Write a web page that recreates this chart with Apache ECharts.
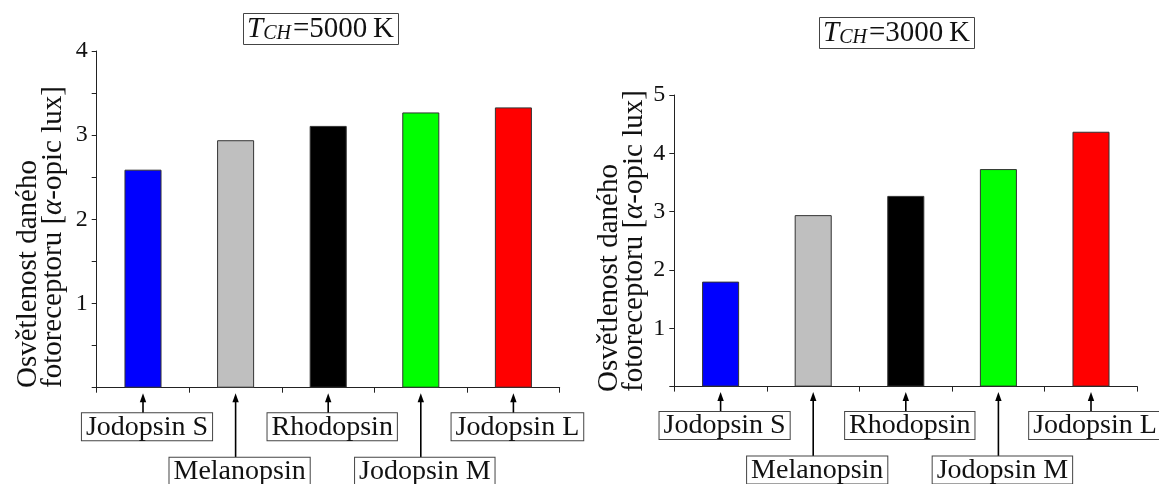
<!DOCTYPE html>
<html>
<head>
<meta charset="utf-8">
<script src="https://cdn.jsdelivr.net/npm/echarts@6/dist/echarts.min.js"></script>
<style>
  html, body { margin: 0; padding: 0; background: #fff; }
  #chart { width: 1159px; height: 484px; }
</style>
</head>
<body>
<div id="chart"></div>
<script>
// Photoreceptor names, shared by both panels
const categories = ['Jodopsin S', 'Melanopsin', 'Rhodopsin', 'Jodopsin M', 'Jodopsin L'];
// Illuminance per photoreceptor [α-opic lux]
const values5000 = [2.59, 2.94, 3.11, 3.27, 3.33];
const values3000 = [1.80, 2.94, 3.27, 3.73, 4.37];
// Bar fill per photoreceptor
const barColors = ['#0000ff', '#bfbfbf', '#000000', '#00ff00', '#ff0000'];
// Panel headings (colour temperature)
const temps = ['5000', '3000'];

const FONT = 'Liberation Serif';
const INK = '#111';

const chart = echarts.init(document.getElementById('chart'), null, { renderer: 'canvas' });

function barData(vals) {
  return vals.map((v, i) => ({ value: v, itemStyle: { color: barColors[i] } }));
}

// Boxed category names below the axis, with an arrow pointing at each bar
function renderCallout(params, api) {
  const idx = api.value(0);
  const p = api.coord([idx, 0]);
  const x = p[0];
  const y0 = p[1];
  const lower = idx % 2 === 1;
  const tipY = y0 + 5.5;
  const boxTop = y0 + (lower ? 70 : 25.5);
  return {
    type: 'group',
    children: [
      {
        type: 'line',
        shape: { x1: x, y1: tipY + 6, x2: x, y2: boxTop },
        style: { stroke: '#000', lineWidth: 1.6 }
      },
      {
        type: 'polygon',
        shape: { points: [[x, tipY], [x - 3.2, tipY + 9], [x + 3.2, tipY + 9]] },
        style: { fill: '#000' }
      },
      {
        type: 'text',
        x: x + 4,
        y: boxTop,
        style: {
          text: categories[idx],
          fontFamily: FONT,
          fontSize: 28,
          fill: INK,
          align: 'center',
          verticalAlign: 'top',
          lineHeight: 26,
          padding: [1, 4, 0, 4],
          borderColor: '#444',
          borderWidth: 1,
          backgroundColor: '#fff'
        }
      }
    ]
  };
}

function titleFor(t, left, top) {
  return {
    text: '{i|T}{s|CH}{n|=' + t + '\u2009K}',
    left: left,
    top: top,
    padding: [1, 5, 1, 4],
    borderWidth: 1,
    borderColor: '#444',
    textStyle: {
      fontWeight: 'normal',
      rich: {
        i: { fontFamily: FONT, fontStyle: 'italic', fontWeight: 'normal', fontSize: 29, color: INK, lineHeight: 30 },
        s: { fontFamily: FONT, fontStyle: 'italic', fontWeight: 'normal', fontSize: 20, color: INK, lineHeight: 30, verticalAlign: 'bottom', padding: [0, 2, 0, 0] },
        n: { fontFamily: FONT, fontWeight: 'normal', fontSize: 29, color: INK, lineHeight: 30 }
      }
    }
  };
}

function yAxisFor(gridIndex, max, interval) {
  return {
    type: 'value',
    gridIndex: gridIndex,
    min: 0,
    max: max,
    interval: interval,
    splitLine: { show: false },
    axisLine: { show: true, lineStyle: { color: '#222', width: 1 } },
    axisTick: { show: true, inside: false, length: 5, lineStyle: { color: '#222', width: 1 } },
    axisLabel: {
      margin: 9,
      fontFamily: FONT,
      fontSize: 24,
      color: INK,
      formatter: v => (v > 0 && Number.isInteger(v)) ? String(v) : ''
    }
  };
}

function xAxisFor(gridIndex) {
  return {
    type: 'category',
    gridIndex: gridIndex,
    data: categories,
    axisLine: { show: true, lineStyle: { color: '#222', width: 1 } },
    axisTick: { show: true, length: 5, lineStyle: { color: '#222', width: 1 } },
    axisLabel: { show: false },
    splitLine: { show: false }
  };
}

function yName(x, yBottom) {
  return {
    type: 'text',
    x: x,
    y: yBottom,
    rotation: Math.PI / 2,
    style: {
      rich: {
        a: { fontFamily: FONT, fontSize: 29, fill: INK, lineHeight: 25 },
        g: { fontFamily: FONT, fontSize: 29, fontStyle: 'italic', fill: INK, lineHeight: 25 }
      },
      text: '{a|Osvětlenost daného}\n{a|fotoreceptoru [}{g|α}{a|-opic lux]}',
      align: 'left',
      verticalAlign: 'middle'
    }
  };
}

const option = {
  backgroundColor: '#fff',
  animation: false,
  textStyle: { fontFamily: FONT },
  title: [titleFor(temps[0], 243, 13), titleFor(temps[1], 819, 17)],
  grid: [
    { left: 96.7, right: 599.3, top: 51, bottom: 96.3 },
    { left: 674.3, right: 21.7, top: 95, bottom: 97.4 }
  ],
  xAxis: [xAxisFor(0), xAxisFor(1)],
  yAxis: [yAxisFor(0, 4, 0.5), yAxisFor(1, 5, 1)],
  series: [
    {
      type: 'bar', xAxisIndex: 0, yAxisIndex: 0, barWidth: '40%',
      itemStyle: { borderColor: '#333', borderWidth: 1 },
      data: barData(values5000)
    },
    {
      type: 'bar', xAxisIndex: 1, yAxisIndex: 1, barWidth: '40%',
      itemStyle: { borderColor: '#333', borderWidth: 1 },
      data: barData(values3000)
    },
    {
      type: 'custom', xAxisIndex: 0, yAxisIndex: 0, clip: false, silent: true,
      renderItem: renderCallout,
      data: categories.map((c, i) => [i, 0])
    },
    {
      type: 'custom', xAxisIndex: 1, yAxisIndex: 1, clip: false, silent: true,
      renderItem: renderCallout,
      data: categories.map((c, i) => [i, 0])
    }
  ],
  graphic: [yName(41, 388), yName(622, 392)]
};

chart.setOption(option);
</script>
</body>
</html>
